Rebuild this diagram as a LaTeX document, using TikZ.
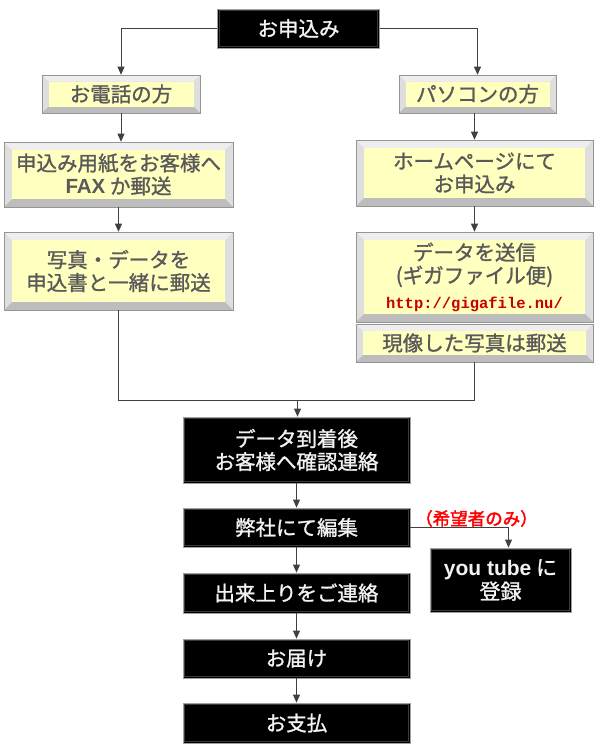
\documentclass[tikz,border=0pt]{standalone}
\usepackage{fontspec}
\usetikzlibrary{calc,arrows.meta}
\newfontfamily\jp{Noto Sans CJK JP}[FakeBold=1.2]
\newfontfamily\jpb{Noto Sans CJK JP}[FakeBold=2.2]
\newfontfamily\lsans{Liberation Sans}
\newfontfamily\lmono{Liberation Mono}
\definecolor{yel}{HTML}{FFFFC0}
\definecolor{framec}{HTML}{DEDEDE}
\definecolor{frameedge}{HTML}{959595}
\definecolor{framehi}{HTML}{EEEEEE}
\definecolor{framelo}{HTML}{BDBDBD}
\definecolor{ytext}{HTML}{595959}
\definecolor{urlc}{HTML}{C80000}
\definecolor{lblc}{HTML}{FF0000}
\definecolor{connc}{HTML}{404040}
\definecolor{bedge}{HTML}{A0A0A0}
\tikzset{
  ybox/.style={rectangle, fill=framec, draw=frameedge, line width=0.6pt,
    text=ytext, font=\jp\fontsize{20.5}{23}\selectfont, align=center, inner sep=0pt,
    path picture={
      \fill[framehi] (path picture bounding box.north west) -- (path picture bounding box.north east)
        -- ($(path picture bounding box.north east)+(-#1,-#1)$) -- ($(path picture bounding box.north west)+(#1,-#1)$) -- cycle;
      \fill[framelo] (path picture bounding box.south west) -- (path picture bounding box.south east)
        -- ($(path picture bounding box.south east)+(-#1,#1)$) -- ($(path picture bounding box.south west)+(#1,#1)$) -- cycle;
      \fill[yel] ($(path picture bounding box.north west)+(#1,-#1)$) rectangle ($(path picture bounding box.south east)+(-#1,#1)$);
    }},
  ybox/.default=8pt,
  bbox/.style={rectangle, fill=black, draw=bedge, line width=0.8pt,
    text=white!95!black, font=\jp\fontsize{20.5}{23}\selectfont, align=center, inner sep=0pt,
    path picture={
      \draw[gray!45!black, line width=1pt] ($(path picture bounding box.north west)+(1.8pt,-1.8pt)$) rectangle ($(path picture bounding box.south east)+(-1.8pt,1.8pt)$);
    }},
  conn/.style={draw=connc, line width=0.8pt},
  arr/.style={conn, -{Triangle[length=8pt,width=7pt]}},
}
\begin{document}
\begin{tikzpicture}[x=1pt,y=-1pt]
\useasboundingbox (0,0) rectangle (600,752);

\node[bbox, minimum width=162pt, minimum height=39pt] (top) at (298.5,28.5) {お申込み};

\node[ybox=6.5pt, minimum width=158pt, minimum height=38pt] (denwa) at (121,94) {お電話の方};
\node[ybox=6.5pt, minimum width=157pt, minimum height=38pt] (pc) at (477.5,94) {パソコンの方};

\node[ybox, minimum width=229pt, minimum height=65pt] (form) at (118.5,174.5) {申込み用紙をお客様へ\\{\lsans\bfseries FAX} か郵送};
\node[ybox, minimum width=229pt, minimum height=78pt] (photo) at (118.5,271) {写真・データを\\申込書と一緒に郵送};

\node[ybox, minimum width=237pt, minimum height=66pt] (hp) at (474.5,173) {ホームページにて\\お申込み};
\node[ybox, minimum width=237pt, minimum height=90pt] (data) at (474.5,277) {データを送信\\(ギガファイル便)\\[2pt]{\lmono\bfseries\color{urlc}\fontsize{15.5}{18}\selectfont http://gigafile.nu/}};
\node[ybox=7pt, minimum width=237pt, minimum height=38pt] (genzo) at (474.5,343) {現像した写真は郵送};

\node[bbox, minimum width=227pt, minimum height=66pt] (arrive) at (296.5,450) {データ到着後\\お客様へ確認連絡};
\node[bbox, minimum width=227pt, minimum height=39pt] (edit) at (296.5,527.5) {弊社にて編集};
\node[bbox, minimum width=141pt, minimum height=64pt, font=\jp\fontsize{21}{24}\selectfont] (yt) at (500.5,580) {{\lsans\bfseries you tube} に\\登録};
\node[bbox, minimum width=227pt, minimum height=40pt] (done) at (296.5,593) {出来上りをご連絡};
\node[bbox, minimum width=227pt, minimum height=39pt] (deliver) at (296.5,658.5) {お届け};
\node[bbox, minimum width=227pt, minimum height=40pt] (pay) at (296.5,723) {お支払};

\node[text=lblc, font=\jpb\fontsize{17.5}{19}\selectfont, inner sep=0pt] (opt) at (476.5,518.5) {（希望者のみ）};

\coordinate (mL) at (118.5,400);
\coordinate (mR) at (474.5,400);
\coordinate (mJ) at (297.5,400);

\draw[arr] (top.west) -| (denwa.north);
\draw[arr] (top.east) -| (pc.north);
\draw[arr] (denwa.south) -- (denwa.south |- form.north);
\draw[arr] (form.south) -- (photo.north);
\draw[arr] (pc.south -| hp.north) -- (hp.north);
\draw[arr] (hp.south) -- (data.north);
\draw[conn] (photo.south) -- (mL) -- (mR) -- (genzo.south);
\draw[arr] (mJ) -- (mJ |- arrive.north);
\draw[arr] (arrive.south) -- (edit.north);
\draw[arr] (edit.east) -| ($(yt.north)+(8pt,0)$);
\draw[arr] (edit.south) -- (done.north);
\draw[arr] (done.south) -- (deliver.north);
\draw[arr] (deliver.south) -- (pay.north);
\end{tikzpicture}
\end{document}
